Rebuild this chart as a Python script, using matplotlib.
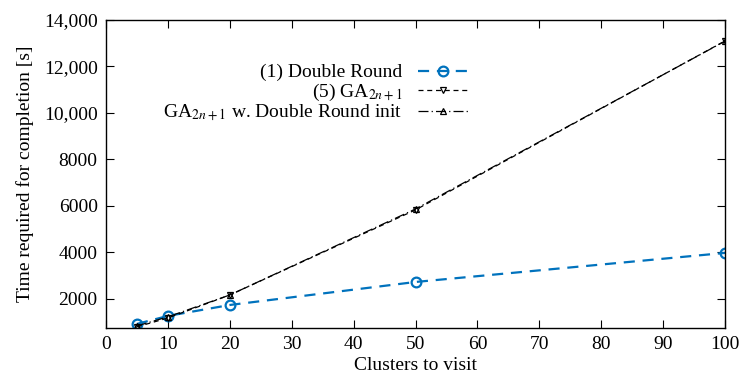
import matplotlib
matplotlib.use("Agg")
import matplotlib.pyplot as plt
from matplotlib.ticker import FuncFormatter, MultipleLocator

plt.rcParams['font.family'] = ['Liberation Serif', 'DejaVu Serif']
plt.rcParams['mathtext.fontset'] = 'stix'

clusters = [5, 10, 20, 50, 100]
double_round = [925, 1270, 1740, 2730, 3980]
ga_2n1 = [800, 1180, 2170, 5830, 13100]
ga_dr_init = [840, 1230, 2170, 5870, 13090]

fig = plt.figure(figsize=(7.39, 3.78), dpi=100)
ax = fig.add_axes([106/739, 1-328/378, (725-106)/739, (328-20)/378])

blue = '#0072bd'
ax.plot(clusters, double_round, color=blue, lw=1.6, ls=(0, (5, 3.5)),
        marker='o', ms=7, mfc='none', mec=blue, mew=1.6, label='(1) Double Round')
ax.plot(clusters, ga_2n1, color='black', lw=0.9, ls=(0, (4, 3)),
        marker='v', ms=5, mfc='none', mec='black', mew=0.9, label=r'(5) GA$_{2n+1}$')
ax.plot(clusters, ga_dr_init, color='black', lw=0.9, ls=(0, (8, 2.5, 1, 2.5)),
        marker='^', ms=5, mfc='none', mec='black', mew=0.9,
        label=r'GA$_{2n+1}$ w. Double Round init')

ax.set_xlim(0, 100)
ax.set_ylim(750, 14000)
ax.xaxis.set_major_locator(MultipleLocator(10))
ax.set_yticks([2000, 4000, 6000, 8000, 10000, 12000, 14000])

def fmt(v, p):
    v = int(round(v))
    return f"{v:,}" if v >= 10000 else f"{v}"
ax.yaxis.set_major_formatter(FuncFormatter(fmt))

ax.tick_params(direction='in', top=True, right=True, length=6, width=0.8, labelsize=14, pad=6)
for s in ax.spines.values():
    s.set_linewidth(1.0)

ax.set_xlabel('Clusters to visit', fontsize=14, labelpad=3)
ax.set_ylabel('Time required for completion [s]', fontsize=14, labelpad=7)

leg = ax.legend(loc='upper right', bbox_to_anchor=(478/739, 1-54/378),
                bbox_transform=fig.transFigure, frameon=False, markerfirst=False,
                fontsize=14, handlelength=2.6, handletextpad=0.8, labelspacing=0.0,
                borderpad=0)

fig.savefig('out.png', dpi=100)
